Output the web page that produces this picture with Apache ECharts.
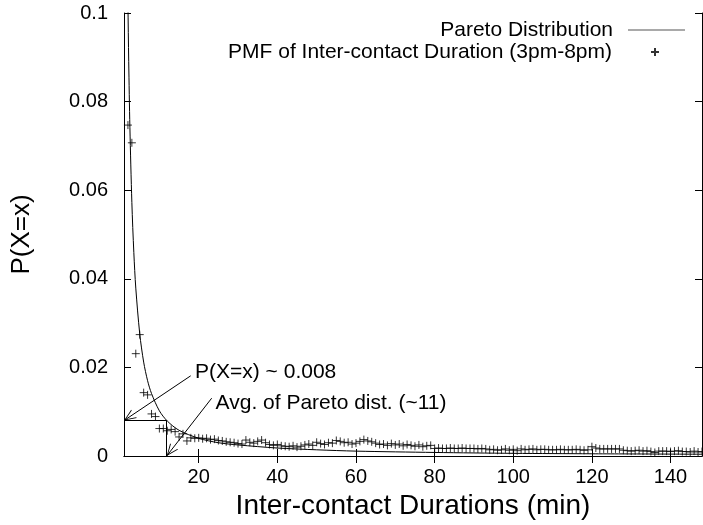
<!DOCTYPE html>
<html>
<head>
<meta charset="utf-8">
<script src="https://cdn.jsdelivr.net/npm/echarts@6/dist/echarts.min.js"></script>
<style>html,body{margin:0;padding:0;background:#fff;}#c{width:703px;height:525px;}</style>
</head>
<body>
<div id="c"></div>
<script>
// PMF of inter-contact duration, x = 2..148 (minutes)
const pmfStart = 2;
const pmfValues = [
  0.0747, 0.0707, 0.0231, 0.0274, 0.0143, 0.0138, 0.0095, 0.0089,
  0.0062, 0.0062, 0.0057, 0.0060, 0.0055, 0.0043, 0.0050, 0.0034, 0.0041, 0.0040,
  0.0041, 0.0039, 0.0040, 0.0037, 0.0038, 0.0035, 0.0034, 0.0032, 0.0031, 0.0030,
  0.0028, 0.0027, 0.0036, 0.0031, 0.0029, 0.0033, 0.0036, 0.0030, 0.0026, 0.0024,
  0.0026, 0.0023, 0.0022, 0.0021, 0.0023, 0.0020, 0.0022, 0.0025, 0.0027, 0.0024,
  0.0031, 0.0028, 0.0026, 0.0030, 0.0029, 0.0035, 0.0033, 0.0030, 0.0031, 0.0027,
  0.0029, 0.0033, 0.0037, 0.0034, 0.0032, 0.0029, 0.0026, 0.0027, 0.0024, 0.0028,
  0.0025, 0.0027, 0.0023, 0.0026, 0.0024, 0.0022, 0.0025, 0.0021, 0.0023, 0.0024,
  0.0017, 0.0018, 0.0017, 0.0017, 0.0018, 0.0017, 0.0017, 0.0018, 0.0017, 0.0017,
  0.0017, 0.0016, 0.0017, 0.0016, 0.0014, 0.0015, 0.0013, 0.0014, 0.0016, 0.0013,
  0.0015, 0.0012, 0.0016, 0.0014, 0.0015, 0.0016, 0.0014, 0.0015, 0.0015, 0.0014,
  0.0014, 0.0014, 0.0015, 0.0014, 0.0014, 0.0014, 0.0015, 0.0014, 0.0013, 0.0014,
  0.0021, 0.0018, 0.0016, 0.0016, 0.0016, 0.0016, 0.0016, 0.0016, 0.0013, 0.0012,
  0.0011, 0.0012, 0.0013, 0.0011, 0.0012, 0.0010, 0.0008, 0.0011, 0.0011, 0.0011,
  0.0010, 0.0011, 0.0012, 0.0010, 0.0010, 0.0009, 0.0011, 0.0009, 0.0010
];
// Pareto curve
const paretoX = [1.95, 2.0, 2.2, 2.5, 3, 3.5, 4, 5, 6, 7, 8, 10, 12, 15, 20, 25, 30, 40, 50, 60, 80, 100, 120, 148];
const paretoY = [0.106, 0.102, 0.0891, 0.0742, 0.0572, 0.0459, 0.0379, 0.0276, 0.0212, 0.0170, 0.0141, 0.0102, 0.0079, 0.0058, 0.0040, 0.0030, 0.0025, 0.0018, 0.0014, 0.0011, 0.0008, 0.0006, 0.0005, 0.0004];
// axis ticks
const xTicks = [20, 40, 60, 80, 100, 120, 140];
const xRange = [1, 148];
const yRange = [0, 0.1];
const yStep = 0.02;
// annotations (data coordinates)
const avgPareto = 11.86;
const pAtAvg = 0.008;
const arrow1 = [[17.96, 0.0181], [1, pAtAvg]];
const arrow2 = [[23.3, 0.01305], [avgPareto, 0]];
const label1 = {text: 'P(X=x) ~ 0.008', at: [19.06, 0.0190]};
const label2 = {text: 'Avg. of Pareto dist. (~11)', at: [24.3, 0.0120]};

const FONT = "'Liberation Sans', Arial, Helvetica, sans-serif";
const pmfData = pmfValues.map((v, i) => [pmfStart + i, v]);
const paretoData = paretoX.map((x, i) => [x, paretoY[i]]);
const plusPath = 'path://M0,5L10,5M5,0L5,10';
const vHead = 'path://M-5,10L0,0L5,10L4,10L0,1.8L-4,10Z';

const chart = echarts.init(document.getElementById('c'), null, {renderer: 'canvas'});
const axisLineStyle = {show: true, lineStyle: {color: '#000', width: 1}};
const headEnd = (c) => ({coord: c, symbol: vHead, symbolSize: [10, 12], symbolOffset: [0, 6]});
chart.setOption({
  animation: false,
  backgroundColor: '#fff',
  textStyle: {fontFamily: FONT, color: '#000'},
  grid: {left: 124, right: 1, top: 13, bottom: 69, containLabel: false},
  xAxis: [{
    type: 'value', min: xRange[0], max: xRange[1], position: 'bottom',
    name: 'Inter-contact Durations (min)', nameLocation: 'middle', nameGap: 34,
    nameTextStyle: {fontSize: 28, fontFamily: FONT, color: '#000'},
    axisLine: axisLineStyle,
    axisTick: {show: true, inside: true, length: 7, customValues: xTicks, lineStyle: {color: '#000'}},
    axisLabel: {show: true, customValues: xTicks, fontSize: 20, fontFamily: FONT, color: '#000', margin: 11},
    splitLine: {show: false}
  }, {
    type: 'value', min: xRange[0], max: xRange[1], position: 'top',
    axisLine: axisLineStyle,
    axisTick: {show: true, inside: true, length: 7, customValues: xTicks, lineStyle: {color: '#000'}},
    axisLabel: {show: false},
    splitLine: {show: false}
  }],
  yAxis: [{
    type: 'value', min: yRange[0], max: yRange[1], interval: yStep, position: 'left',
    name: 'P(X=x)', nameLocation: 'middle', nameGap: 89, nameRotate: 90,
    nameTextStyle: {fontSize: 26, fontFamily: FONT, color: '#000'},
    axisLine: axisLineStyle,
    axisTick: {show: true, inside: true, length: 7, lineStyle: {color: '#000'}},
    axisLabel: {fontSize: 20, fontFamily: FONT, color: '#000', margin: 16},
    splitLine: {show: false}
  }, {
    type: 'value', min: yRange[0], max: yRange[1], interval: yStep, position: 'right',
    axisLine: axisLineStyle,
    axisTick: {show: true, inside: true, length: 7, lineStyle: {color: '#000'}},
    axisLabel: {show: false},
    splitLine: {show: false}
  }],
  legend: [{
    data: [{name: 'Pareto Distribution', icon: 'rect'}],
    right: 18, top: 19, padding: 0,
    align: 'right', itemWidth: 57, itemHeight: 1,
    itemStyle: {color: '#555', borderWidth: 0},
    textStyle: {fontSize: 21, fontFamily: FONT, color: '#000', padding: [0, 10, 0, 0], lineHeight: 22}
  }, {
    data: ['PMF of Inter-contact Duration (3pm-8pm)'],
    right: 43, top: 41, padding: 0,
    align: 'right', itemWidth: 8, itemHeight: 8,
    textStyle: {fontSize: 21, fontFamily: FONT, color: '#000', padding: [0, 34, 0, 0], lineHeight: 22}
  }],
  series: [{
    name: 'Pareto Distribution',
    type: 'line', data: paretoData, smooth: 0.3,
    symbol: 'none', clip: true,
    lineStyle: {color: '#000', width: 1},
    itemStyle: {color: '#000'},
    markLine: {
      silent: true, symbol: ['none', 'none'], animation: false,
      lineStyle: {color: '#000', width: 1, type: 'solid'},
      label: {show: false},
      data: [
        [{coord: [xRange[0], pAtAvg]}, {coord: [avgPareto, pAtAvg]}],
        [{coord: [avgPareto, 0]}, {coord: [avgPareto, pAtAvg]}],
        [{coord: arrow1[0]}, headEnd(arrow1[1])],
        [{coord: arrow2[0]}, headEnd(arrow2[1])]
      ]
    },
    markPoint: {
      silent: true, symbol: 'circle', symbolSize: 0,
      label: {show: true, position: 'right', distance: 0, fontSize: 21, fontFamily: FONT, color: '#000', formatter: p => p.name},
      data: [
        {name: label1.text, coord: label1.at},
        {name: label2.text, coord: label2.at}
      ]
    }
  }, {
    name: 'PMF of Inter-contact Duration (3pm-8pm)',
    type: 'scatter', data: pmfData, clip: true,
    symbol: plusPath, symbolSize: 8,
    itemStyle: {color: 'rgba(0,0,0,0)', borderColor: '#000', borderWidth: 1}
  }]
});
</script>
</body>
</html>
